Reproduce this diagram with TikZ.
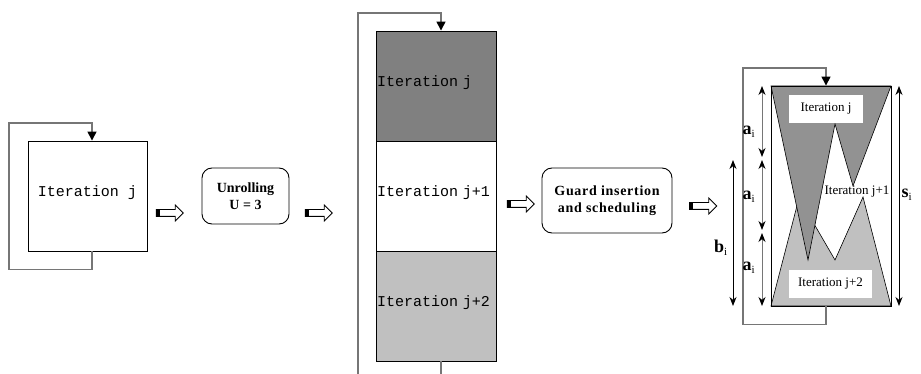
\documentclass[tikz,border=0pt]{standalone}
\usepackage{fontspec}
\setmainfont{Liberation Serif}
\setmonofont{Liberation Mono}
\usepackage{tikz}
\usetikzlibrary{arrows.meta,shapes,calc,positioning}
\definecolor{darkfill}{RGB}{128,128,128}
\definecolor{darkfillb}{RGB}{146,146,146}
\definecolor{lightfill}{RGB}{192,192,192}
\definecolor{loopgray}{RGB}{118,118,118}
\tikzstyle{block}   =[rectangle, draw, line width=0.9pt, inner sep=1pt,
                      text depth=10pt, font=\fontsize{15}{17}\ttfamily]
\tikzstyle{stage}   =[rectangle, draw, rounded corners=10pt, line width=0.9pt,
                      align=center, font=\fontsize{14}{17}\bfseries]
\tikzstyle{loopback}=[draw=loopgray, line width=1.5pt,
                      -{Triangle[length=9pt,width=9pt,color=black]}]
\tikzstyle{fat}     =[single arrow, draw, line width=0.8pt, inner xsep=0pt,
                      inner ysep=3pt, single arrow head extend=4.5pt,
                      minimum height=27pt]
\tikzstyle{dim}     =[line width=0.9pt,
                      {Stealth[length=9pt,width=7pt,color=black]}-{Stealth[length=9pt,width=7pt,color=black]}]
\tikzstyle{tag}     =[fill=white, inner sep=0pt, font=\fontsize{13}{15}\selectfont]
\tikzstyle{dimlabel}=[inner sep=0pt, font=\fontsize{18}{20}\bfseries]
\newcommand{\sub}[1]{\textsubscript{\normalfont\fontsize{11}{12}\selectfont #1}}

\begin{document}
\begin{tikzpicture}[x=1pt,y=-1pt]
    \useasboundingbox (0,0) rectangle (921,374);

    \draw (87.5,196) node (iterj) [block, minimum width=119pt, minimum height=110pt] {Iteration j};
    \draw [loopback] ([xshift=4.5pt]iterj.south) -- ++(0,18) -| (9,123) -| ([xshift=4.5pt]iterj.north);

    \draw (245.5,196) node (unroll) [stage, minimum width=87pt, minimum height=56pt] {Unrolling\\U = 3};

    \foreach \n/\y/\c/\t in {colj/86/darkfill/j, colja/196/white/j+1, coljb/306/lightfill/j+2}
        \draw (436,\y) node (\n) [block, fill=\c, minimum height=110pt, text width=118pt, align=left] {Iteration \t};
    \begin{scope}
        \clip (0,0) rectangle (921,374);
        \draw [loopback] ([xshift=5pt]coljb.south) -- ++(0,19) -| (358,13) -| ([xshift=5pt]colj.north);
    \end{scope}

    \draw (607,200.5) node (guard) [stage, minimum width=130pt, minimum height=65pt]
        {\addfontfeature{LetterSpace=5}Guard insertion\\\addfontfeature{LetterSpace=5}and scheduling};

    \fill [lightfill, draw=black, line width=0.6pt] (771,306) -- (799,198) -- (835,260) -- (863,197) -- (891,306) -- cycle;
    \fill [darkfillb, draw=black, line width=0.6pt] (771,86) -- (891,86) -- (853,186) -- (835,124) -- (808,260) -- cycle;
    \draw (831,196) node (sched) [rectangle, draw, line width=0.9pt, minimum width=120pt, minimum height=220pt] {};
    \draw [loopback] ([xshift=-5pt]sched.south) -- ++(0,18) -| (743,68) -| ([xshift=-5pt]sched.north);

    \draw (826,109) node (tagj) [tag, minimum width=74pt, minimum height=28pt] {Iteration j};
    \draw (857,192) node (tagja) [tag, fill=none] {Iteration j+1};
    \draw (830.5,284) node (tagjb) [tag, minimum width=83pt, minimum height=28pt] {Iteration j+2};

    \foreach \n/\y in {a0/86, a1/157, a2/160, a3/230, a4/233, a5/306}
        \coordinate (\n) at (762,\y);
    \foreach \i/\j in {a0/a1, a2/a3, a4/a5}
        \draw [dim, draw=loopgray] (\i) -- (\j);
    \coordinate (b0) at (733,160);
    \coordinate (b1) at (733,306);
    \coordinate (s0) at (899,86);
    \coordinate (s1) at (899,306);
    \draw [dim] (b0) -- (b1);
    \draw [dim] (s0) -- (s1);

    \foreach \n/\y in {la/132, lb/197, lc/268}
        \draw (749,\y) node (\n) [dimlabel] {a\sub{i}};
    \draw (721,248) node (lbi) [dimlabel] {b\sub{i}};
    \draw (907,195) node (lsi) [dimlabel] {s\sub{i}};

    \foreach \n/\x/\y in {fa/168/213, fb/317/213, fc/519/204, fd/701.5/206} {
        \draw (\x,\y) node (\n) [fat] {};
        \fill (\n.before tail) rectangle ([xshift=4pt]\n.after tail);
    }

\end{tikzpicture}
\end{document}
